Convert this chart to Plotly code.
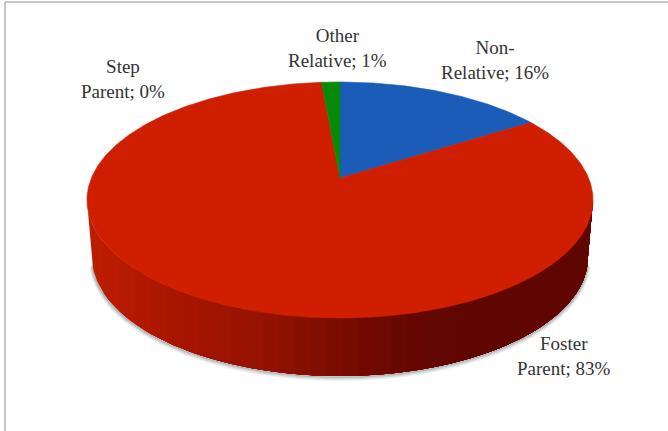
import numpy as np
import plotly.graph_objects as go

# ---- data ----
categories = ["Non-<br>Relative", "Foster<br>Parent", "Step<br>Parent", "Other<br>Relative"]
values = [16.0, 82.6, 0.0, 1.4]
slice_colors = ["#1a5cb8", "#cf1f00", "#cf1f00", "#078a0a"]
label_x = [495, 564, 123, 337]
label_y = [60, 356, 79, 48]

# ---- pie geometry (perspective view of a disc) ----
W, H = 668, 431
CX, APEX_Y = 340, 178
P = 0.1864
A, B = 248.6, 113.9
TOP_CY, TOP_RX, TOP_RY = 200, 253, 118
BOT_CY, BOT_RX, BOT_RY = 257, 248, 119


def project(theta):
    u, v = np.sin(theta), np.cos(theta)
    d = 1 + P * v
    return CX + A * u / d, APEX_Y - B * v / d


fig = go.Figure()


def poly(xs, ys, color, lw=0.6):
    fig.add_trace(go.Scatter(x=xs, y=ys, mode="lines", fill="toself", fillcolor=color,
                             line=dict(color=color, width=lw), hoverinfo="skip", showlegend=False))


def lower_edge(xs, cy, rx, ry):
    return cy + ry * np.sqrt(np.clip(1 - ((xs - CX) / rx) ** 2, 0, 1))


# soft shadow under the rim
phi_all = np.linspace(np.pi * 0.98, np.pi * 0.02, 160)
for off, width, alpha in [(3.0, 4, 0.10), (2.0, 3, 0.16), (1.0, 2, 0.22)]:
    fig.add_trace(go.Scatter(x=CX + (BOT_RX + off * 0.3) * np.cos(phi_all),
                             y=BOT_CY + off + BOT_RY * np.sin(phi_all),
                             mode="lines", line=dict(color=f"rgba(70,80,90,{alpha})", width=width),
                             hoverinfo="skip", showlegend=False))

# side wall: vertical shaded bands painted left to right, each one reaching the right rim
shade_x = [87, 180, 280, 365, 430, 593]
shade_r = [190, 168, 143, 114, 98, 92]
shade_g = [30, 22, 18, 10, 7, 6]
top_l, top_r = CX - TOP_RX, CX + TOP_RX
bot_l, bot_r = CX - BOT_RX, CX + BOT_RX
for xi in np.arange(top_l, 460, 16.0):
    xt = np.cosh(0) * CX + TOP_RX * np.cos(np.linspace(np.arccos((xi - CX) / TOP_RX), 0, 80))
    yt = lower_edge(xt, TOP_CY, TOP_RX, TOP_RY)
    b0 = max(xi, bot_l)
    xb = CX + BOT_RX * np.cos(np.linspace(0, np.arccos((b0 - CX) / BOT_RX), 80))
    yb = lower_edge(xb, BOT_CY, BOT_RX, BOT_RY)
    xm = xi + 8
    col = f"rgb({int(np.interp(xm, shade_x, shade_r))},{int(np.interp(xm, shade_x, shade_g))},0)"
    poly(list(xt) + list(xb), list(yt) + list(yb), col, lw=0)

# top face, slices from the values
total = sum(values)
start = 0.0
for val, col in zip(values, slice_colors):
    if val <= 0:
        continue
    end = start + val / total * 2 * np.pi
    th = np.linspace(start, end, max(3, int(val * 6)))
    ex, ey = project(th)
    poly([CX] + list(ex) + [CX], [APEX_Y] + list(ey) + [APEX_Y], col)
    start = end

# labels
for name, val, lx, ly in zip(categories, values, label_x, label_y):
    fig.add_annotation(x=lx, y=ly, xref="x", yref="y", text=f"{name}; {round(val)}%",
                       showarrow=False, align="center", xanchor="center", yanchor="middle",
                       font=dict(family="Liberation Serif", size=19, color="#333333"))

# outer frame
frame = "#b5b5b5"
fig.add_shape(type="line", x0=5, x1=W, y0=2, y1=2, line=dict(color=frame, width=1.5))
fig.add_shape(type="line", x0=5, x1=5, y0=2, y1=H, line=dict(color=frame, width=1.5))

fig.update_layout(
    width=W, height=H, autosize=False,
    margin=dict(l=0, r=0, t=0, b=0),
    paper_bgcolor="white", plot_bgcolor="white",
    xaxis=dict(range=[0, W], visible=False, fixedrange=True),
    yaxis=dict(range=[H, 0], visible=False, fixedrange=True),
)
fig.write_html("out.html", config={"displayModeBar": False},
               post_script="document.body.style.margin='0';document.body.style.overflow='hidden';")
